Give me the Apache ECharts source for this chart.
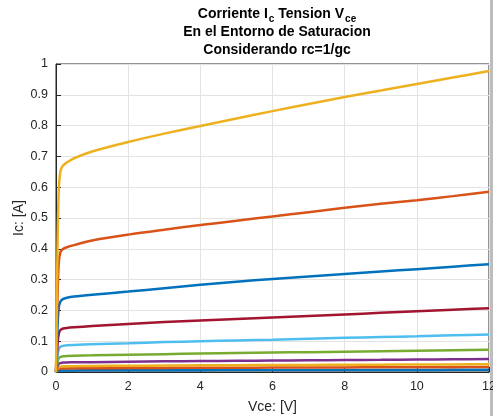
<!DOCTYPE html>
<html>
<head>
<meta charset="utf-8">
<script src="https://cdn.jsdelivr.net/npm/echarts@6/dist/echarts.min.js"></script>
<style>
html,body{margin:0;padding:0;background:#fff;}
#chart{width:493px;height:416px;}
</style>
</head>
<body>
<div id="chart"></div>
<script>
// Vce muestras [V]
var vce = [0, 0.02, 0.05, 0.08, 0.12, 0.16, 0.2, 0.3, 0.5, 1, 2, 3, 4, 5, 6, 7, 8, 9, 10, 11, 12];

// Ic [A], de la curva mas baja a la mas alta
var ic1  = [0, 0.002, 0.004, 0.0045, 0.005, 0.005, 0.005, 0.005, 0.0052, 0.0054, 0.0056, 0.0058, 0.006, 0.0062, 0.0063, 0.0065, 0.0066, 0.0067, 0.0068, 0.0069, 0.007];
var ic2  = [0, 0.004, 0.008, 0.010, 0.011, 0.0112, 0.0115, 0.0117, 0.012, 0.0123, 0.0128, 0.0132, 0.0136, 0.014, 0.0143, 0.0146, 0.0149, 0.0152, 0.0155, 0.0158, 0.016];
var ic3  = [0, 0.006, 0.013, 0.016, 0.0175, 0.018, 0.0183, 0.0186, 0.019, 0.0195, 0.0203, 0.021, 0.0216, 0.0221, 0.0226, 0.0231, 0.0235, 0.0239, 0.0243, 0.0247, 0.025];
var ic4  = [0, 0.010, 0.021, 0.027, 0.029, 0.030, 0.0305, 0.031, 0.0315, 0.032, 0.0335, 0.0345, 0.0355, 0.0363, 0.0372, 0.038, 0.0388, 0.0395, 0.0403, 0.041, 0.042];
var ic5  = [0, 0.016, 0.036, 0.045, 0.049, 0.050, 0.051, 0.052, 0.053, 0.054, 0.056, 0.058, 0.060, 0.0615, 0.063, 0.0645, 0.066, 0.0675, 0.069, 0.0705, 0.072];
var ic6  = [0, 0.028, 0.060, 0.076, 0.082, 0.084, 0.085, 0.087, 0.088, 0.090, 0.093, 0.097, 0.100, 0.1025, 0.105, 0.108, 0.111, 0.1135, 0.116, 0.119, 0.122];
var ic7  = [0, 0.045, 0.100, 0.126, 0.136, 0.139, 0.141, 0.143, 0.145, 0.149, 0.156, 0.162, 0.167, 0.172, 0.177, 0.182, 0.187, 0.192, 0.197, 0.202, 0.207];
var ic8  = [0, 0.075, 0.165, 0.212, 0.228, 0.234, 0.237, 0.241, 0.245, 0.251, 0.261, 0.272, 0.283, 0.293, 0.302, 0.310, 0.318, 0.326, 0.334, 0.342, 0.350];
var ic9  = [0, 0.120, 0.280, 0.360, 0.388, 0.396, 0.400, 0.405, 0.412, 0.427, 0.446, 0.462, 0.477, 0.491, 0.505, 0.519, 0.533, 0.546, 0.558, 0.571, 0.585];
var ic10 = [0, 0.200, 0.460, 0.600, 0.650, 0.664, 0.671, 0.680, 0.694, 0.716, 0.747, 0.774, 0.799, 0.823, 0.847, 0.870, 0.893, 0.914, 0.935, 0.956, 0.977];

var curvas = [ic1, ic2, ic3, ic4, ic5, ic6, ic7, ic8, ic9, ic10];
var colores = ['#0072BD', '#D95319', '#EDB120', '#7E2F8E', '#77AC30', '#4DBEEE', '#A2142F', '#0072BD', '#D95319', '#EDB120'];

var fuente = "'Liberation Sans', Arial, Helvetica, sans-serif";
var chart = echarts.init(document.getElementById('chart'));

var series = curvas.map(function (c, i) {
	return {
		type: 'line',
		showSymbol: false,
		smooth: 0.3,
		data: vce.map(function (v, k) { return [v, c[k]]; }),
		lineStyle: { color: colores[i], width: 2.5 },
		itemStyle: { color: colores[i] },
		z: 3 + i
	};
});

var option = {
	animation: false,
	backgroundColor: '#fff',
	title: {
		left: 272,
		textAlign: 'center',
		top: 0,
		text: '{n|Corriente I}{s|c}{n| Tension V}{s|ce}\n{n|En el Entorno de Saturacion}\n{n|Considerando rc=1/gc}',
		textStyle: {
			fontFamily: fuente,
			fontWeight: 'bold',
			fontSize: 14,
			color: '#000',
			lineHeight: 18,
			rich: {
				n: { fontFamily: fuente, fontWeight: 'bold', fontSize: 14, color: '#000', lineHeight: 18 },
				s: { fontFamily: fuente, fontWeight: 'bold', fontSize: 10, color: '#000', lineHeight: 18, padding: [10, 0, 0, 1] }
			}
		}
	},
	grid: { left: 56, right: 4, top: 64, bottom: 44, outerBoundsMode: 'none', show: true, borderColor: '#262626', borderWidth: 1 },
	xAxis: {
		type: 'value',
		min: 0,
		max: 12,
		interval: 2,
		name: 'Vce: [V]',
		nameLocation: 'middle',
		nameGap: 28,
		nameTextStyle: { fontFamily: fuente, fontSize: 14, color: '#262626' },
		axisLine: { show: true, lineStyle: { color: '#262626' } },
		axisTick: { show: true, inside: true, length: 5, lineStyle: { color: '#262626' } },
		axisLabel: { fontFamily: fuente, fontSize: 12.5, color: '#262626', margin: 8 },
		splitLine: { show: true, lineStyle: { color: '#e3e3e3', width: 1 } }
	},
	yAxis: {
		type: 'value',
		min: 0,
		max: 1,
		interval: 0.1,
		name: 'Ic: [A]',
		nameLocation: 'middle',
		nameGap: 30,
		nameMoveOverlap: false,
		nameTextStyle: { fontFamily: fuente, fontSize: 14, color: '#262626' },
		axisLine: { show: true, lineStyle: { color: '#262626' } },
		axisTick: { show: true, inside: true, length: 5, lineStyle: { color: '#262626' } },
		axisLabel: {
			fontFamily: fuente, fontSize: 12.5, color: '#262626', margin: 8,
			formatter: function (v) { return String(Math.round(v * 10) / 10); }
		},
		splitLine: { show: true, lineStyle: { color: '#e3e3e3', width: 1 } }
	},
	graphic: [
		{ type: 'rect', shape: { x: 490, y: 0, width: 3, height: 416 }, style: { fill: '#bdbdbd' }, silent: true }
	],
	series: series
};
chart.setOption(option);
</script>
</body>
</html>
